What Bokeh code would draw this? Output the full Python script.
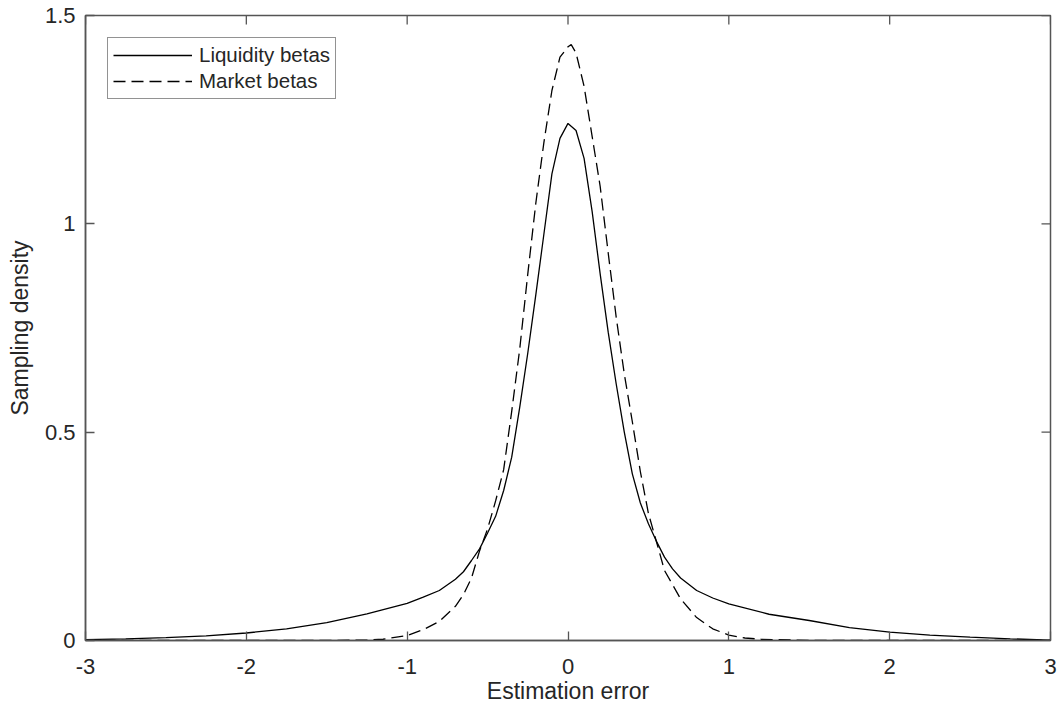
import math
from bokeh.plotting import figure
from bokeh.models import FixedTicker, Range1d, Legend, LegendItem
from bokeh.embed import file_html
from bokeh.resources import INLINE

# Estimation error grid and sampling densities
liq_x = [-3.0, -2.75, -2.5, -2.25, -2.0, -1.75, -1.5, -1.25, -1.0, -0.9, -0.8, -0.7,
         -0.65, -0.6, -0.55, -0.5, -0.45, -0.4, -0.35, -0.3, -0.25, -0.2, -0.15, -0.1,
         -0.05, 0.0, 0.05, 0.1, 0.15, 0.2, 0.25, 0.3, 0.35, 0.4, 0.45, 0.5, 0.55, 0.6,
         0.65, 0.7, 0.8, 0.9, 1.0, 1.25, 1.5, 1.75, 2.0, 2.25, 2.5, 2.75, 3.0]
liq_y = [0.002, 0.004, 0.007, 0.011, 0.018, 0.028, 0.043, 0.064, 0.089, 0.104, 0.120, 0.147,
         0.165, 0.192, 0.220, 0.258, 0.298, 0.360, 0.440, 0.560, 0.690, 0.830, 0.975, 1.120,
         1.205, 1.241, 1.224, 1.157, 1.030, 0.880, 0.740, 0.615, 0.500, 0.400, 0.330, 0.280,
         0.238, 0.200, 0.172, 0.150, 0.120, 0.102, 0.088, 0.063, 0.048, 0.031, 0.020, 0.013,
         0.008, 0.004, 0.001]

mkt_x = [-3.0, -2.0, -1.5, -1.25, -1.15, -1.0, -0.9, -0.8, -0.7, -0.65, -0.6, -0.55, -0.5,
         -0.45, -0.4, -0.35, -0.3, -0.25, -0.2, -0.15, -0.1, -0.05, 0.0, 0.02, 0.05, 0.1,
         0.15, 0.2, 0.25, 0.3, 0.35, 0.4, 0.45, 0.5, 0.55, 0.6, 0.7, 0.8, 0.9, 1.0, 1.1,
         1.2, 1.5, 2.0, 3.0]
mkt_y = [0.0, 0.0, 0.0, 0.001, 0.003, 0.012, 0.026, 0.046, 0.082, 0.110, 0.150, 0.215, 0.268,
         0.335, 0.410, 0.550, 0.700, 0.880, 1.050, 1.195, 1.320, 1.400, 1.425, 1.430, 1.410, 1.330,
         1.210, 1.090, 0.930, 0.775, 0.640, 0.525, 0.405, 0.305, 0.237, 0.168, 0.100, 0.055,
         0.028, 0.013, 0.006, 0.003, 0.0, 0.0, 0.0]

x_ticks = [-3, -2, -1, 0, 1, 2, 3]
x_tick_labels = ["-3", "-2", "-1", "0", "1", "2", "3"]
y_ticks = [0, 0.5, 1, 1.5]
y_tick_labels = ["0", "0.5", "1", "1.5"]

FONT = "Liberation Sans"
TXT = "#262626"
AX = "#555555"
TICK_LEN = 9

p = figure(width=1060, height=709, output_backend="svg", toolbar_location=None,
           x_range=Range1d(x_ticks[0], x_ticks[-1]), y_range=Range1d(y_ticks[0], y_ticks[-1]),
           min_border_left=85, min_border_right=10, min_border_top=15, min_border_bottom=69)
p.background_fill_color = "white"
p.border_fill_color = "white"
p.outline_line_color = AX
p.outline_line_width = 1.5
p.xgrid.visible = False
p.ygrid.visible = False

r1 = p.line(liq_x, liq_y, line_color="black", line_width=1.3)
r2 = p.line(mkt_x, mkt_y, line_color="black", line_width=1.3, line_dash="12 6")

# inward ticks on the top and right edges of the box (MATLAB "box on")
p.ray(x=x_ticks, y=[y_ticks[-1]] * len(x_ticks), length=TICK_LEN, length_units="screen",
      angle=-math.pi / 2, line_color=AX, line_width=1.3)
p.ray(x=[x_ticks[-1]] * len(y_ticks), y=y_ticks, length=TICK_LEN, length_units="screen",
      angle=math.pi, line_color=AX, line_width=1.3)

def style(ax, ticks, labels):
    ax.ticker = FixedTicker(ticks=ticks)
    ax.major_label_overrides = {t: s for t, s in zip(ticks, labels)}
    ax.axis_line_color = AX
    ax.axis_line_width = 1.5
    ax.major_tick_line_color = AX
    ax.major_tick_line_width = 1.3
    ax.major_tick_in = TICK_LEN
    ax.major_tick_out = 0
    ax.minor_tick_line_color = None
    ax.major_label_text_font = FONT
    ax.major_label_text_color = TXT
    ax.major_label_text_font_size = "22px"
    ax.axis_label_text_font = FONT
    ax.axis_label_text_color = TXT
    ax.axis_label_text_font_size = "23px"
    ax.axis_label_text_font_style = "normal"

xa = p.xaxis[0]
style(xa, x_ticks, x_tick_labels)
xa.major_label_standoff = 18
xa.axis_label = "Estimation error"
xa.axis_label_standoff = 1

ya = p.yaxis[0]
style(ya, y_ticks, y_tick_labels)
ya.major_label_standoff = 10
ya.axis_label = "Sampling density"
ya.axis_label_standoff = 9

legend = Legend(items=[LegendItem(label="Liquidity betas", renderers=[r1]),
                       LegendItem(label="Market betas", renderers=[r2])],
                location="top_left")
legend.margin = 22
legend.padding = 5
legend.spacing = 2
legend.glyph_width = 79
legend.glyph_height = 20
legend.label_height = 20
legend.label_standoff = 7
legend.label_text_font = FONT
legend.label_text_font_size = "20.5px"
legend.label_text_color = TXT
legend.border_line_color = "#262626"
legend.border_line_width = 1
legend.background_fill_color = "white"
legend.background_fill_alpha = 1
p.add_layout(legend)

open("out.html", "w").write(file_html(p, INLINE))
